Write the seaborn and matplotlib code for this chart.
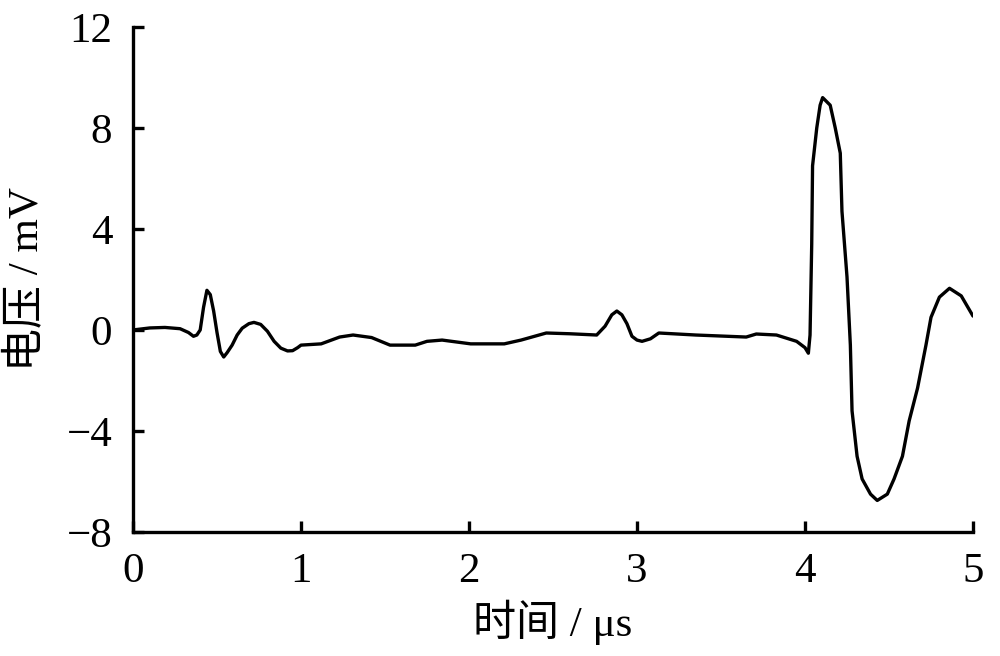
import matplotlib
matplotlib.use("Agg")
import matplotlib.pyplot as plt
import seaborn as sns
import pandas as pd

time_us = [0.00, 0.10, 0.19, 0.28, 0.33, 0.36, 0.38, 0.40, 0.42, 0.44, 0.46, 0.48,
           0.50, 0.52, 0.54, 0.56, 0.59, 0.62, 0.65, 0.69, 0.72, 0.76, 0.80, 0.84,
           0.88, 0.92, 0.95, 0.98, 1.00, 1.12, 1.23, 1.31, 1.42, 1.53, 1.68, 1.75,
           1.84, 2.01, 2.21, 2.31, 2.46, 2.60, 2.76, 2.81, 2.85, 2.88, 2.91, 2.94,
           2.97, 3.00, 3.03, 3.08, 3.13, 3.35, 3.65, 3.71, 3.83, 3.95, 4.00, 4.02,
           4.03, 4.04, 4.045, 4.07, 4.09, 4.105, 4.15, 4.18, 4.21, 4.22, 4.25, 4.27,
           4.28, 4.31, 4.34, 4.39, 4.43, 4.49, 4.53, 4.58, 4.62, 4.67, 4.72, 4.75,
           4.80, 4.86, 4.93, 5.00]
voltage_mv = [0.00, 0.08, 0.10, 0.05, -0.10, -0.25, -0.20, 0.00, 0.90, 1.57, 1.40, 0.75,
              -0.10, -0.85, -1.07, -0.90, -0.60, -0.20, 0.07, 0.25, 0.30, 0.22, -0.05, -0.45,
              -0.72, -0.83, -0.82, -0.70, -0.60, -0.55, -0.28, -0.20, -0.30, -0.60, -0.60, -0.45,
              -0.40, -0.55, -0.55, -0.40, -0.12, -0.15, -0.20, 0.15, 0.60, 0.75, 0.60, 0.25,
              -0.25, -0.40, -0.45, -0.35, -0.12, -0.20, -0.28, -0.16, -0.20, -0.45, -0.70, -0.92,
              -0.20, 3.40, 6.50, 8.00, 8.90, 9.20, 8.90, 8.00, 7.00, 4.70, 2.10, -0.60,
              -3.20, -5.00, -5.90, -6.50, -6.75, -6.50, -5.90, -5.00, -3.60, -2.30, -0.60, 0.50,
              1.30, 1.65, 1.35, 0.55]

x_ticks = [0, 1, 2, 3, 4, 5]
y_ticks = [-8, -4, 0, 4, 8, 12]
x_label = "时间 / μs"
y_label = "电压 / mV"

sns.set_theme(style="ticks")
plt.rcParams['font.family'] = ['Liberation Serif', 'Noto Sans CJK SC']
plt.rcParams['axes.unicode_minus'] = True

df = pd.DataFrame({"t": time_us, "v": voltage_mv})

fig = plt.figure(figsize=(10, 6.56), dpi=100)
ax = fig.add_axes([0.133, 0.189, 0.840, 0.770])
sns.lineplot(data=df, x="t", y="v", ax=ax, color="black", linewidth=2.4,
             sort=False, estimator=None)

ax.set_xlim(0, 5)
ax.set_ylim(-8, 12)
ax.set_xticks(x_ticks)
ax.set_yticks(y_ticks)
ax.set_xticklabels([str(v) for v in x_ticks])
ax.set_yticklabels([str(v).replace("-", "\u2212") for v in y_ticks])
for s in ["top", "right"]:
    ax.spines[s].set_visible(False)
for s in ["left", "bottom"]:
    ax.spines[s].set_linewidth(2.4)
    ax.spines[s].set_color("black")
ax.tick_params(direction="in", length=8, width=2.4, colors="black",
               labelsize=31, pad=15)
ax.set_xlabel(x_label, fontsize=31, labelpad=6, color="black")
ax.set_ylabel(y_label, fontsize=31, labelpad=14, color="black")

fig.savefig("out.png", dpi=100)
